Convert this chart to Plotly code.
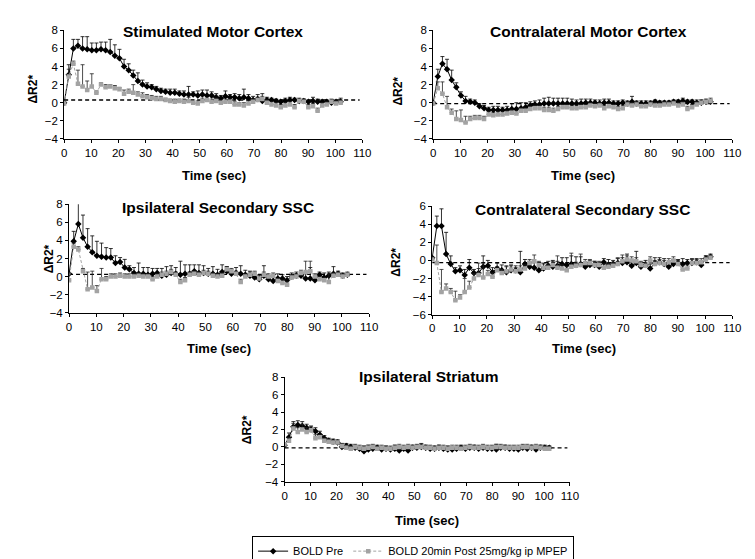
import plotly.graph_objects as go

W, H = 755, 559

T = [0, 1.7, 3.4, 5.1, 6.8, 8.5, 10.2, 11.9, 13.6, 15.3,
     17, 18.7, 20.4, 22.1, 23.8, 25.5, 27.2, 28.9, 30.6, 32.3,
     34, 35.7, 37.4, 39.1, 40.8, 42.5, 44.2, 45.9, 47.6, 49.3,
     51, 52.7, 54.4, 56.1, 57.8, 59.5, 61.2, 62.9, 64.6, 66.3,
     68, 69.7, 71.4, 73.1, 74.8, 76.5, 78.2, 79.9, 81.6, 83.3,
     85, 86.7, 88.4, 90.1, 91.8, 93.5, 95.2, 96.9, 98.6, 100.3,
     102]

titles = ["Stimulated Motor Cortex", "Contralateral Motor Cortex",
          "Ipsilateral Secondary SSC", "Contralateral Secondary SSC",
          "Ipsilateral Striatum"]

pre_smc = [0.0,3.1,6.0,6.3,6.0,5.9,5.8,5.8,5.9,5.8,
           5.6,5.2,4.9,4.0,3.6,3.0,2.4,2.0,1.8,1.7,
           1.5,1.3,1.2,1.1,1.1,1.0,0.9,0.9,0.9,0.8,
           0.9,0.8,0.8,0.6,0.5,0.7,0.6,0.6,0.5,0.6,
           0.5,0.3,0.4,0.2,0.3,0.3,0.2,0.1,0.2,0.3,
           0.3,0.2,0.2,0.1,0.2,0.1,0.1,0.1,0.0,0.1,
           0.1]
pre_smc_err = [0.0,1.1,1.0,0.7,1.3,1.4,0.8,0.8,0.8,0.9,
               1.4,1.2,1.0,0.8,0.7,0.6,0.9,0.5,0.4,0.3,
               0.3,0.3,0.3,0.4,0.4,0.3,0.4,0.9,0.3,0.5,
               0.5,0.6,0.4,0.4,0.3,0.6,0.3,0.4,0.4,0.9,
               0.4,0.4,0.5,0.8,0.3,0.2,0.2,0.2,0.3,0.3,
               0.2,0.2,0.2,0.2,0.4,0.3,0.2,0.2,0.2,0.2,
               0.4]
post_smc = [-0.1,2.9,4.3,2.1,1.8,1.4,1.8,1.1,2.0,1.7,
            1.8,1.6,1.5,1.0,1.2,1.1,0.9,0.7,0.6,0.5,
            0.4,0.4,0.3,0.2,0.1,0.2,0.1,0.2,0.0,-0.1,
            0.2,0.3,0.1,0.2,0.0,0.1,0.1,-0.2,-0.2,-0.3,
            -0.1,0.1,0.3,0.4,0.0,-0.2,-0.3,-0.5,-0.3,-0.2,
            -0.5,0.2,0.1,-0.5,-0.4,-0.9,-0.3,-0.2,0.1,-0.1,
            0.0]
post_smc_err = [0.0,0.8,0.3,1.5,2.4,1.0,1.4,0.2,0.2,0.3,
                0.2,0.3,0.2,0.4,0.3,0.9,0.3,0.4,0.3,0.3,
                0.3,0.3,0.2,0.2,0.3,0.2,0.3,0.4,0.3,0.3,
                0.3,0.2,0.3,0.3,0.3,0.3,0.3,0.3,0.2,0.3,
                0.3,0.3,0.3,0.3,0.3,0.3,0.3,0.3,0.3,0.3,
                0.3,0.3,0.3,0.3,0.3,0.3,0.3,0.3,0.3,0.3,
                0.3]

pre_cmc = [0.0,2.9,4.3,3.7,2.5,1.7,0.8,0.2,0.1,0.0,
           -0.4,-0.6,-0.8,-0.8,-0.8,-0.8,-0.8,-0.7,-0.7,-0.6,
           -0.5,-0.3,-0.2,-0.2,-0.1,-0.1,-0.1,-0.1,-0.1,-0.1,
           -0.1,-0.1,-0.1,0.0,0.0,0.0,-0.1,0.0,0.0,-0.1,
           -0.1,0.0,-0.1,0.1,-0.1,-0.1,-0.1,-0.1,0.1,0.0,
           0.0,0.0,0.1,0.1,0.2,0.1,0.1,0.0,0.0,0.1,
           0.1]
pre_cmc_err = [0.0,0.8,0.8,1.1,1.1,0.5,0.4,0.5,0.3,0.3,
               0.3,0.3,0.3,0.4,0.4,0.3,0.4,0.6,0.7,0.6,
               0.5,0.4,0.4,0.5,0.6,0.7,0.6,0.6,0.6,0.6,
               0.5,0.4,0.5,0.4,0.4,0.3,0.4,0.4,0.4,0.3,
               0.3,0.3,0.3,0.6,0.3,0.3,0.3,0.3,0.2,0.2,
               0.2,0.2,0.2,0.2,0.3,0.2,0.2,0.3,0.3,0.2,
               0.2]
post_cmc = [-0.1,1.6,1.0,-0.5,-1.1,-1.8,-1.9,-2.2,-1.8,-1.7,
            -1.7,-1.8,-1.3,-1.4,-1.3,-1.3,-1.2,-1.1,-1.2,-0.9,
            -0.9,-0.7,-0.6,-0.6,-0.8,-0.8,-0.9,-0.7,-0.5,-0.5,
            -0.6,-0.6,-0.5,-0.5,-0.3,-0.4,-0.3,-0.6,-0.4,-0.5,
            -0.7,-0.6,-0.2,-0.3,-0.2,-0.4,-0.4,-0.2,-0.3,-0.3,
            -0.2,-0.2,-0.1,-0.3,-0.2,-0.7,-0.5,-0.2,0.0,0.1,
            0.2]
post_cmc_err = [0.0,0.7,1.3,1.2,0.4,0.9,1.1,0.7,0.3,0.3,
                0.3,0.3,0.3,0.3,0.3,0.3,0.3,0.3,0.3,0.3,
                0.3,0.3,0.3,0.3,0.3,0.3,0.3,0.3,0.3,0.3,
                0.3,0.3,0.3,0.3,0.3,0.3,0.3,0.3,0.3,0.3,
                0.3,0.3,0.3,0.3,0.3,0.3,0.3,0.3,0.3,0.3,
                0.3,0.3,0.3,0.3,0.3,0.3,0.3,0.3,0.3,0.3,
                0.3]

pre_iss = [0.3,3.9,5.8,4.3,3.3,2.7,2.3,2.2,2.1,2.1,
           1.5,1.6,1.0,0.8,0.4,0.3,0.3,0.2,0.3,0.4,
           0.1,0.2,0.4,0.3,0.2,0.3,0.3,0.6,0.4,0.4,
           0.3,0.3,0.2,0.5,0.6,0.3,0.4,0.3,0.2,0.1,
           -0.1,-0.3,0.1,-0.3,-0.5,-0.2,-0.2,-0.4,0.0,0.1,
           0.1,-0.2,-0.2,-0.4,0.2,-0.1,0.1,0.3,0.3,0.1,
           0.2]
pre_iss_err = [0.0,1.1,2.3,2.5,2.0,1.8,1.6,1.5,1.1,1.0,
               0.8,0.5,0.9,0.4,0.6,1.2,0.7,0.8,0.6,0.5,
               0.8,0.9,0.8,0.7,1.5,1.0,1.0,0.7,0.9,0.8,
               0.6,0.8,0.6,0.8,0.5,0.5,0.6,0.9,0.5,0.5,
               0.6,0.5,1.1,0.4,0.4,0.5,0.4,0.4,0.4,0.4,
               0.3,0.5,1.2,0.4,0.3,0.5,0.4,0.8,0.3,0.3,
               0.2]
post_iss = [-0.4,3.3,3.0,0.6,-1.4,-1.2,-1.6,-0.3,-0.3,0.0,
            0.0,0.1,0.0,0.0,0.0,0.1,0.0,0.0,-0.3,0.0,
            0.2,0.3,0.5,0.2,-0.6,-0.4,0.2,0.3,0.2,0.4,
            0.3,0.1,0.0,0.1,0.8,0.6,0.3,-0.6,0.0,0.2,
            0.3,-0.2,0.2,0.0,0.1,-0.5,-0.7,-0.9,-0.1,0.0,
            0.4,0.5,0.6,0.0,-0.3,-0.4,-0.6,0.1,0.2,0.0,
            0.2]
post_iss_err = [0.0,0.4,0.3,0.3,1.9,1.8,0.6,1.2,0.3,0.3,
                0.3,0.3,0.3,0.3,0.3,0.3,0.3,0.3,0.3,0.3,
                0.3,0.3,0.3,0.3,0.3,0.3,0.3,0.3,0.3,0.3,
                0.3,0.3,0.3,0.3,0.3,0.3,0.3,0.3,0.3,0.3,
                0.3,0.3,0.3,0.3,0.3,0.3,0.3,0.3,0.3,0.3,
                0.3,1.2,1.1,0.3,0.3,0.3,0.9,0.3,0.3,0.3,
                0.3]

pre_css = [0.3,3.8,3.8,0.7,-0.4,-1.2,-1.1,-1.6,-0.8,-1.4,
           -1.4,-0.7,-0.6,-1.3,-0.9,-1.1,-1.3,-1.1,-1.1,-1.3,
           -0.4,-0.7,-0.8,-1.1,-0.9,-0.6,-0.7,-0.6,-0.4,-0.5,
           -0.4,-0.5,-0.4,-0.7,-0.5,-0.5,-0.7,-0.2,-0.5,-0.4,
           -0.3,-0.3,-0.2,-0.6,-0.3,-0.7,-0.5,-0.9,-0.3,-0.2,
           -0.4,-0.7,-0.4,-0.3,-0.4,-0.3,-0.3,-0.2,-0.5,0.2,
           0.4]
pre_css_err = [0.0,1.1,1.9,2.4,0.9,0.4,0.5,0.6,0.9,0.4,
               0.5,1.2,0.6,0.5,0.6,0.6,0.7,0.6,0.5,2.3,
               0.5,0.6,0.6,0.5,0.6,0.5,0.7,0.5,0.7,0.8,
               0.9,0.9,0.8,0.4,0.5,0.4,0.5,0.4,0.6,0.4,
               0.5,0.6,0.9,0.5,1.3,0.4,0.5,0.5,0.6,0.5,
               0.6,0.4,0.5,0.4,0.6,0.4,0.5,0.4,0.5,0.3,
               0.3]
post_css = [0.1,-0.3,-3.5,-3.1,-3.5,-4.4,-4.1,-3.5,-3.0,-2.0,
            -1.6,-1.9,-1.5,-1.8,-1.1,-1.4,-1.2,-1.0,-1.2,-1.0,
            -0.9,-0.3,-0.1,-0.5,-0.8,-0.8,-0.5,-0.8,-0.9,-1.1,
            -0.7,-0.6,-0.5,-0.3,-0.3,-0.5,-0.5,-0.8,-0.7,-0.6,
            -0.4,-0.1,0.1,0.0,-0.1,-0.5,-0.6,0.0,-0.4,-0.3,
            -0.4,-0.2,0.0,-0.4,-1.0,-0.9,-0.3,-0.3,-0.2,0.1,
            0.3]
post_css_err = [0.0,2.0,2.5,0.5,0.4,1.0,0.3,1.5,0.7,0.5,
                1.3,1.6,0.4,0.4,0.4,0.4,0.5,0.4,0.4,0.4,
                0.4,0.4,0.7,0.4,0.4,0.4,0.4,1.3,0.4,0.4,
                1.5,0.4,1.2,0.4,0.4,0.4,0.4,0.4,0.4,0.4,
                0.7,0.7,0.4,0.4,0.4,0.4,0.4,0.4,0.4,0.4,
                0.4,0.4,0.4,0.4,0.4,0.4,0.4,0.4,0.4,0.4,
                0.3]

pre_is = [0.2,1.1,2.3,2.5,2.4,2.2,2.0,1.8,1.4,1.0,
          0.7,0.6,0.5,0.0,0.1,0.0,-0.1,-0.2,-0.5,-0.3,
          -0.2,-0.1,-0.3,-0.2,-0.3,-0.2,-0.4,-0.2,-0.4,-0.1,
          -0.1,0.0,-0.1,-0.2,-0.2,-0.1,-0.2,-0.3,-0.3,-0.2,
          -0.1,-0.2,-0.1,-0.1,-0.2,-0.1,-0.2,-0.2,-0.3,-0.1,
          -0.1,-0.2,-0.2,-0.3,-0.1,-0.2,-0.1,-0.3,-0.1,-0.1,
          -0.1]
pre_is_err = [0.0,0.5,0.6,0.5,0.5,0.4,0.4,0.4,0.4,0.3,
              0.3,0.3,0.3,0.4,0.3,0.3,0.3,0.3,0.6,0.5,
              0.4,0.3,0.4,0.3,0.3,0.4,0.4,0.3,0.4,0.3,
              0.3,0.4,0.3,0.3,0.3,0.3,0.3,0.4,0.3,0.3,
              0.3,0.3,0.3,0.3,0.3,0.3,0.3,0.3,0.6,0.3,
              0.3,0.3,0.3,0.3,0.3,0.3,0.3,0.3,0.3,0.3,
              0.2]
post_is = [0.3,0.7,2.1,1.7,2.0,1.7,1.9,1.0,1.1,0.7,
           0.6,0.5,0.5,0.1,-0.1,-0.2,0.0,-0.1,-0.2,-0.1,
           0.0,-0.2,-0.1,-0.2,-0.2,-0.1,0.0,-0.1,0.0,-0.1,
           0.0,0.0,-0.1,-0.1,-0.2,-0.1,-0.1,-0.2,-0.1,-0.1,
           -0.2,-0.1,0.0,-0.1,-0.1,0.0,-0.1,-0.1,0.0,0.0,
           -0.1,-0.1,-0.1,-0.1,0.0,0.0,-0.1,0.0,-0.1,-0.2,
           -0.2]
post_is_err = [0.0,0.4,0.6,0.5,0.6,0.5,0.4,0.4,0.3,0.3,
               0.3,0.3,0.3,0.3,0.3,0.3,0.3,0.3,0.3,0.3,
               0.3,0.3,0.3,0.3,0.3,0.3,0.3,0.3,0.3,0.3,
               0.3,0.3,0.3,0.3,0.3,0.3,0.3,0.3,0.3,0.3,
               0.3,0.3,0.3,0.3,0.3,0.3,0.3,0.3,0.3,0.3,
               0.3,0.3,0.3,0.3,0.3,0.3,0.3,0.3,0.3,0.3,
               0.3]

baselines = [0.3, -0.1, 0.25, -0.25, -0.1]
baseline_x = [0, 109]
y_ranges = [[-4, 8], [-4, 8], [-4, 8], [-6, 6], [-4, 8]]
y_ticks = [[-4, -2, 0, 2, 4, 6, 8], [-4, -2, 0, 2, 4, 6, 8],
           [-4, -2, 0, 2, 4, 6, 8], [-6, -4, -2, 0, 2, 4, 6],
           [-4, -2, 0, 2, 4, 6, 8]]
x_ticks = [0, 10, 20, 30, 40, 50, 60, 70, 80, 90, 100, 110]

pre_all = [pre_smc, pre_cmc, pre_iss, pre_css, pre_is]
pre_err_all = [pre_smc_err, pre_cmc_err, pre_iss_err, pre_css_err, pre_is_err]
post_all = [post_smc, post_cmc, post_iss, post_css, post_is]
post_err_all = [post_smc_err, post_cmc_err, post_iss_err, post_css_err, post_is_err]

# pixel boxes: x0, x1, ytop, ybottom
boxes = [(54, 357, 17, 130), (429, 733, 17, 130), (59, 364, 198, 311),
         (428, 733, 200, 313), (278, 568, 378, 487)]
title_pos = [(205, 18), (587, 18), (210, 201), (581, 203), (425, 377)]
xtitle_pos = [(206, 168), (581, 168), (211, 348), (582, 348), (423, 527)]
ytitle_pos = [(22, 78), (393, 80), (39, 255), (391, 258), (240, 433)]

FONT = "Liberation Sans, Arial, sans-serif"
GRAY = "#a3a3a3"

fig = go.Figure()
layout = {}
annotations = []
for i in range(5):
    x0, x1, yt, yb = boxes[i]
    sfx = "" if i == 0 else str(i + 1)
    xa, ya = "x" + sfx, "y" + sfx
    layout["xaxis" + sfx] = dict(
        domain=[x0 / W, x1 / W], range=[0, 110], tickvals=x_ticks,
        showline=True, linecolor="black", linewidth=1, ticks="outside",
        ticklen=3, tickcolor="black", showgrid=False, zeroline=False,
        anchor=ya, tickfont=dict(family=FONT, size=11.5, color="black"),
        fixedrange=True)
    layout["yaxis" + sfx] = dict(
        domain=[1 - yb / H, 1 - yt / H], range=y_ranges[i], tickvals=y_ticks[i],
        showline=True, linecolor="black", linewidth=1, ticks="outside",
        ticklen=3, tickcolor="black", showgrid=False, zeroline=False,
        anchor=xa, tickfont=dict(family=FONT, size=11.5, color="black"),
        fixedrange=True)
    fig.add_trace(go.Scatter(x=baseline_x, y=[baselines[i]] * 2, mode="lines",
                             line=dict(color="black", width=1.3, dash="4px,3px"),
                             xaxis=xa, yaxis=ya, showlegend=False, hoverinfo="skip"))
    fig.add_trace(go.Scatter(
        x=T, y=pre_all[i], mode="lines+markers", name="BOLD Pre",
        line=dict(color="black", width=1),
        marker=dict(symbol="diamond", size=5, color="black"),
        error_y=dict(type="data", symmetric=False, array=pre_err_all[i],
                     arrayminus=[0] * len(T), color="black", thickness=0.8, width=2),
        xaxis=xa, yaxis=ya, showlegend=(i == 0)))
    fig.add_trace(go.Scatter(
        x=T, y=post_all[i], mode="lines+markers",
        name="BOLD 20min Post 25mg/kg ip MPEP",
        line=dict(color=GRAY, width=1, dash="3px,2px"),
        marker=dict(symbol="square", size=4.5, color=GRAY),
        error_y=dict(type="data", symmetric=False, array=post_err_all[i],
                     arrayminus=[0] * len(T), color="#222222", thickness=0.8, width=2),
        xaxis=xa, yaxis=ya, showlegend=(i == 0)))
    tx, ty = title_pos[i]
    annotations.append(dict(text="<b>" + titles[i] + "</b>", x=tx / W, y=1 - ty / H,
                            xref="paper", yref="paper", showarrow=False,
                            xanchor="center", yanchor="middle",
                            font=dict(family=FONT, size=15.5, color="black")))
    tx, ty = xtitle_pos[i]
    annotations.append(dict(text="<b>Time (sec)</b>", x=tx / W, y=1 - ty / H,
                            xref="paper", yref="paper", showarrow=False,
                            xanchor="center", yanchor="middle",
                            font=dict(family=FONT, size=13, color="black")))
    tx, ty = ytitle_pos[i]
    annotations.append(dict(text="<b>ΔR2*</b>", x=tx / W, y=1 - ty / H,
                            xref="paper", yref="paper", showarrow=False,
                            xanchor="center", yanchor="middle", textangle=-90,
                            font=dict(family=FONT, size=12, color="black")))

fig.update_layout(
    width=W, height=H, margin=dict(l=0, r=0, t=0, b=0),
    paper_bgcolor="white", plot_bgcolor="white",
    annotations=annotations,
    legend=dict(orientation="h", x=245 / W, y=1 - 543 / H, xanchor="left",
                yanchor="top", bordercolor="black", borderwidth=1,
                font=dict(family=FONT, size=11, color="black"),
                itemwidth=30, tracegroupgap=0, bgcolor="white"),
    **layout)

fig.write_html("out.html", config={"displayModeBar": False})
